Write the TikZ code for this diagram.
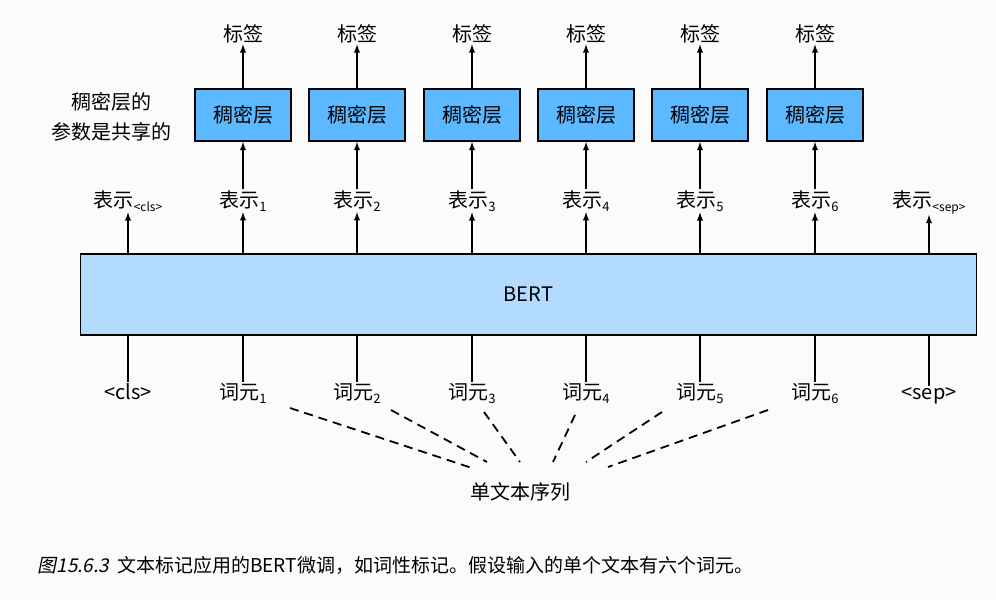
\documentclass[tikz,border=0pt]{standalone}
\usepackage{fontspec}
\setmainfont{Noto Sans CJK SC}
\newfontfamily\slantcjk[FakeSlant=0.2]{Noto Sans CJK SC}
\definecolor{densefill}{HTML}{5CB8FF}
\definecolor{bertfill}{HTML}{B3DAFF}
\newcommand{\mysub}[1]{\raisebox{-4pt}{\fontsize{13}{14}\selectfont #1}}
\begin{document}
\begin{tikzpicture}[x=1pt,y=-1pt,
  lab/.style={font=\fontsize{20}{24}\selectfont,inner sep=1pt},
  dense/.style={draw=black,line width=2pt,fill=densefill,minimum width=96pt,minimum height=52pt,font=\fontsize{20}{24}\selectfont},
  arr/.style={-latex,line width=1.8pt},
  dashln/.style={line width=1.8pt,dash pattern=on 9pt off 6pt}]
\fill[gray!3] (0,0) rectangle (996,600);
\useasboundingbox (0,0) rectangle (996,600);
\node[draw=black,line width=1.4pt,fill=bertfill,minimum width=896pt,minimum height=81pt,font=\fontsize{20}{24}\selectfont] (bert) at (528.5,294.5) {BERT};
\foreach \i/\x in {1/243,2/357,3/472,4/586,5/700,6/815}{
  \node[dense] (d\i) at (\x,115) {稠密层};
  \node[lab] (l\i) at (\x,34) {标签};
  \node[lab,anchor=base] (r\i) at (\x,207) {表示\mysub{\i}};
  \node[lab,anchor=base] (t\i) at (\x,399) {词元\mysub{\i}};
  \coordinate (bt\i) at (\x,254);
  \coordinate (bb\i) at (\x,335);
  \draw[arr] (d\i.north) -- (l\i.south);
  \draw[arr] (r\i.north) -- (d\i.south);
  \draw[arr] (bt\i) -- (r\i.south);
  \draw[line width=1.8pt] (t\i.north) -- (bb\i);
}
\node[lab,anchor=base] (rc) at (128,207) {表示\raisebox{-4pt}{\fontsize{12}{12}\selectfont <cls>}};
\node[lab,anchor=base] (rs) at (929,207) {表示\raisebox{-4pt}{\fontsize{12}{12}\selectfont <sep>}};
\coordinate (btc) at (128,254); \coordinate (bts) at (929,254);
\draw[arr] (btc) -- (rc.south); \draw[arr] (bts) -- (rs.south);
\node[lab,anchor=base] (tc) at (128,399) {<cls>};
\node[lab,anchor=base] (ts) at (929,399) {<sep>};
\coordinate (bbc) at (128,335); \coordinate (bbs) at (929,335);
\draw[line width=1.8pt] (tc.north) -- (bbc); \draw[line width=1.8pt] (ts.north) -- (bbs);
\node[lab,align=center,font=\fontsize{20}{30}\selectfont] (note) at (111,117) {稠密层的\\参数是共享的};
\node[lab] (seq) at (520,492) {单文本序列};
\coordinate (s1) at (290,408); \coordinate (e1) at (472,468);
\coordinate (s2) at (391,410); \coordinate (e2) at (487,462);
\coordinate (s3) at (484,412); \coordinate (e3) at (520,462);
\coordinate (s4) at (575,415); \coordinate (e4) at (553,462);
\coordinate (s5) at (662,412); \coordinate (e5) at (586,462);
\coordinate (s6) at (768,410); \coordinate (e6) at (608,467);
\foreach \i in {1,...,6}{\draw[dashln] (s\i) -- (e\i);}
\node[anchor=west,font=\fontsize{19}{22}\selectfont] (cap) at (34,565) {{\slantcjk 图15.6.3}\hspace{8pt}文本标记应用的BERT微调，如词性标记。假设输入的单个文本有六个词元。};
\end{tikzpicture}
\end{document}
